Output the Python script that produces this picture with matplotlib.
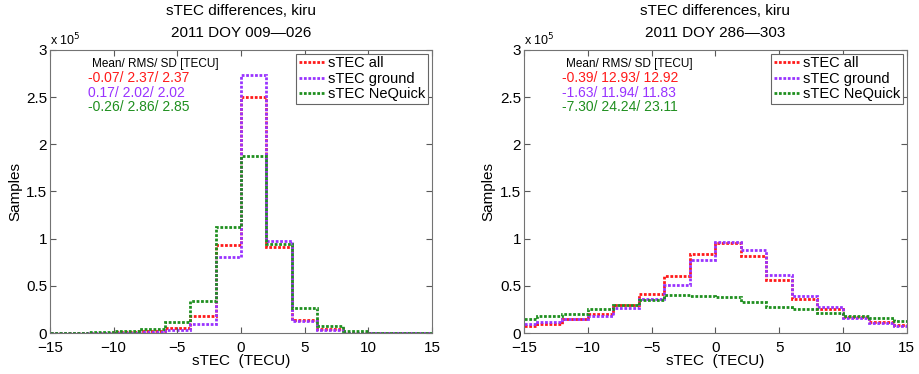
import numpy as np
import matplotlib.pyplot as plt
from matplotlib.ticker import FuncFormatter

plt.rcParams['font.family'] = ['Liberation Sans', 'DejaVu Sans']

# bin edges (TECU), 2 TECU wide
edges = np.arange(-16, 17, 2)

# samples per bin, in units of 1e5
jan_all = [0.0005, 0.001, 0.002, 0.01, 0.018, 0.053, 0.184, 0.936,
           2.50, 0.91, 0.14, 0.04, 0.005, 0.001, 0.0005, 0.0003]
jan_ground = [0.0003, 0.0005, 0.001, 0.005, 0.01, 0.028, 0.10, 0.81,
              2.73, 0.972, 0.13, 0.03, 0.004, 0.001, 0.0003, 0.0002]
jan_nequick = [0.001, 0.002, 0.007, 0.025, 0.046, 0.113, 0.336, 1.12,
               1.88, 0.94, 0.265, 0.07, 0.018, 0.005, 0.002, 0.001]

oct_all = [0.078, 0.10, 0.148, 0.205, 0.30, 0.413, 0.60, 0.837,
           0.953, 0.82, 0.558, 0.36, 0.254, 0.17, 0.113, 0.08]
oct_ground = [0.095, 0.113, 0.148, 0.183, 0.265, 0.36, 0.51, 0.777,
              0.967, 0.875, 0.614, 0.395, 0.275, 0.16, 0.106, 0.07]
oct_nequick = [0.152, 0.18, 0.205, 0.254, 0.30, 0.353, 0.40, 0.39,
               0.378, 0.33, 0.28, 0.25, 0.21, 0.185, 0.16, 0.13]

titles = ['sTEC differences, kiru\n2011 DOY 009\u2014026',
          'sTEC differences, kiru\n2011 DOY 286\u2014303']
stats = [['-0.07/ 2.37/ 2.37', '0.17/ 2.02/ 2.02', '-0.26/ 2.86/ 2.85'],
         ['-0.39/ 12.93/ 12.92', '-1.63/ 11.94/ 11.83', '-7.30/ 24.24/ 23.11']]
labels = ['sTEC all', 'sTEC ground', 'sTEC NeQuick']
colors = ['#ff1a1a', '#9933ff', '#1f8f1f']
panels = [[jan_all, jan_ground, jan_nequick], [oct_all, oct_ground, oct_nequick]]

fig = plt.figure(figsize=(9.19, 3.74), dpi=100)
positions = [[0.0544, 0.1096, 0.4157, 0.757], [0.570, 0.1096, 0.4168, 0.757]]

for pos, series, title, st in zip(positions, panels, titles, stats):
    ax = fig.add_axes(pos)
    for vals, lab, c in zip(series, labels, colors):
        ax.stairs(np.array(vals) * 1e5, edges, color=c, linestyle=(0, (1, 0.6)),
                  linewidth=2, label=lab, baseline=None)
    ax.set_xlim(-15, 15)
    ax.set_ylim(0, 3e5)
    ax.set_xticks(np.arange(-15, 16, 5))
    ax.set_yticks(np.arange(0, 3.01e5, 0.5e5))
    ax.yaxis.set_major_formatter(FuncFormatter(lambda v, p: '%g' % (v / 1e5)))
    ax.tick_params(direction='in', top=True, right=True, labelsize=11,
                   length=4, color='0.35')
    ax.tick_params(axis='x', pad=6)
    ax.tick_params(axis='y', pad=2)
    for s in ax.spines.values():
        s.set_color('0.45')
    ax.set_title(title, fontsize=11, linespacing=1.75, pad=9)
    ax.set_xlabel('sTEC  (TECU)', fontsize=11, labelpad=-1)
    ax.set_ylabel('Samples', fontsize=11, labelpad=3)
    ax.text(0.0, 1.005, r'x 10$^5$', transform=ax.transAxes, fontsize=9,
            ha='left', va='bottom')
    ax.text(0.11, 0.951, 'Mean/ RMS/ SD [TECU]', transform=ax.transAxes,
            fontsize=8.5, va='center')
    for i, (txt, c) in enumerate(zip(st, colors)):
        ax.text(0.10, 0.90 - i * 0.051, txt, transform=ax.transAxes,
                fontsize=10, color=c, va='center')
    leg = ax.legend(loc='upper right', fontsize=10.5, handlelength=1.8,
                    handletextpad=0.2, borderaxespad=0.25, borderpad=0.2,
                    labelspacing=0.1, fancybox=False, framealpha=1)
    leg.get_frame().set_edgecolor('0.4')
    leg.get_frame().set_linewidth(0.8)

fig.savefig('out.png', dpi=100)
